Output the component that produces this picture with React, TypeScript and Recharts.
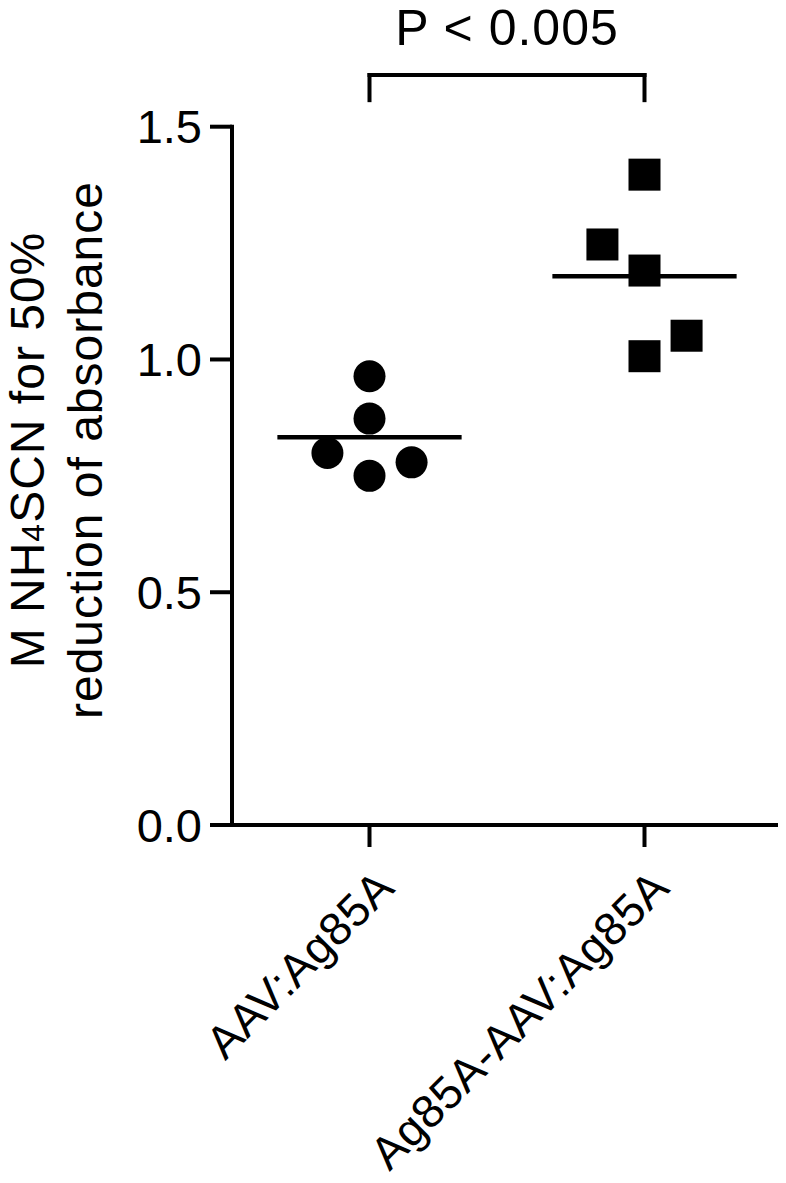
import { ScatterChart, Scatter, XAxis, YAxis, ReferenceLine } from 'recharts';

const FONT = '"Liberation Sans", Arial, Helvetica, sans-serif';

// groups on the x axis, placed at 0.5 and 1.5 on a 0..2 scale
const groups = ['AAV:Ag85A', 'Ag85A-AAV:Ag85A'];
const groupCenters = [0.5, 1.5];
const yTicks = [0, 0.5, 1.0, 1.5];

// AAV:Ag85A (circles)
const aavValues = [0.964, 0.873, 0.799, 0.75, 0.779];
const aavJitter = [0, 0, -0.153, 0, 0.153];

// Ag85A-AAV:Ag85A (squares)
const fusionValues = [1.397, 1.247, 1.191, 1.051, 1.007];
const fusionJitter = [0, -0.153, 0, 0.153, 0];

// significance bracket
const pLabel = 'P < 0.005';
const bracketLow = 1.557;
const bracketHigh = 1.611;

const mean = (a: number[]) => a.reduce((s, v) => s + v, 0) / a.length;

const aavData = aavValues.map((v, i) => ({ x: groupCenters[0] + aavJitter[i], y: v }));
const fusionData = fusionValues.map((v, i) => ({ x: groupCenters[1] + fusionJitter[i], y: v }));
const means = [mean(aavValues), mean(fusionValues)];
const halfLine = 0.335;

const CircleDot = (p: any) => <circle cx={p.cx} cy={p.cy} r={16} fill="#000" />;
const SquareDot = (p: any) => (
  <rect x={p.cx - 16} y={p.cy - 16} width={32} height={32} fill="#000" />
);

function XTick({ x, y, payload }: any) {
  const i = groupCenters.indexOf(payload.value);
  const ax = x + 27;
  const ay = y + 41;
  return (
    <text
      x={ax}
      y={ay}
      transform={`rotate(-45, ${ax}, ${ay})`}
      textAnchor="end"
      fontSize={46}
      letterSpacing={0.5}
      fontFamily={FONT}
      fill="#000"
    >
      {groups[i]}
    </text>
  );
}

function YTitle() {
  const cy = 450;
  return (
    <g fontFamily={FONT} fontSize={48} fill="#000">
      <text x={44} y={cy} transform={`rotate(-90, 44, ${cy})`} textAnchor="middle" letterSpacing={1}>
        M NH<tspan fontSize={32}>4</tspan>SCN for 50%
      </text>
      <text x={102} y={cy} transform={`rotate(-90, 102, ${cy})`} textAnchor="middle" letterSpacing={1}>
        reduction of absorbance
      </text>
    </g>
  );
}

const axisStyle = { stroke: '#000', strokeWidth: 4, strokeLinecap: 'square' as const };

export default function App() {
  return (
    <div style={{ margin: -8, background: '#fff' }}>
      <ScatterChart
        width={786}
        height={1183}
        margin={{ top: 126.7, right: 4, bottom: 0, left: 0 }}
      >
        <XAxis
          type="number"
          dataKey="x"
          domain={[0, 2]}
          ticks={groupCenters}
          height={358}
          axisLine={axisStyle}
          tickLine={{ stroke: '#000', strokeWidth: 4 }}
          tickSize={22}
          tick={<XTick />}
          interval={0}
        />
        <YAxis
          type="number"
          dataKey="y"
          domain={[0, 1.5]}
          ticks={yTicks}
          width={232}
          axisLine={axisStyle}
          tickLine={{ stroke: '#000', strokeWidth: 4 }}
          tickSize={22}
          tickMargin={8}
          tickFormatter={(v: number) => v.toFixed(1)}
          tick={{ fill: '#000', fontSize: 47, fontFamily: FONT }}
          label={YTitle}
        />
        <Scatter data={aavData} shape={CircleDot} isAnimationActive={false} />
        <Scatter data={fusionData} shape={SquareDot} isAnimationActive={false} />
        {groupCenters.map((c, i) => (
          <ReferenceLine
            key={'m' + i}
            segment={[
              { x: c - halfLine, y: means[i] },
              { x: c + halfLine, y: means[i] },
            ]}
            stroke="#000"
            strokeWidth={4.5}
          />
        ))}
        <ReferenceLine
          segment={[
            { x: groupCenters[0], y: bracketLow },
            { x: groupCenters[0], y: bracketHigh },
          ]}
          stroke="#000"
          strokeWidth={4}
          strokeLinecap="square"
          ifOverflow="visible"
        />
        <ReferenceLine
          segment={[
            { x: groupCenters[1], y: bracketLow },
            { x: groupCenters[1], y: bracketHigh },
          ]}
          stroke="#000"
          strokeWidth={4}
          strokeLinecap="square"
          ifOverflow="visible"
        />
        <ReferenceLine
          segment={[
            { x: groupCenters[0], y: bracketHigh },
            { x: groupCenters[1], y: bracketHigh },
          ]}
          stroke="#000"
          strokeWidth={4}
          strokeLinecap="square"
          ifOverflow="visible"
          label={{
            value: pLabel,
            position: 'top',
            offset: 30,
            fontSize: 50,
            letterSpacing: 1,
            fill: '#000',
            fontFamily: FONT,
          }}
        />
      </ScatterChart>
    </div>
  );
}
